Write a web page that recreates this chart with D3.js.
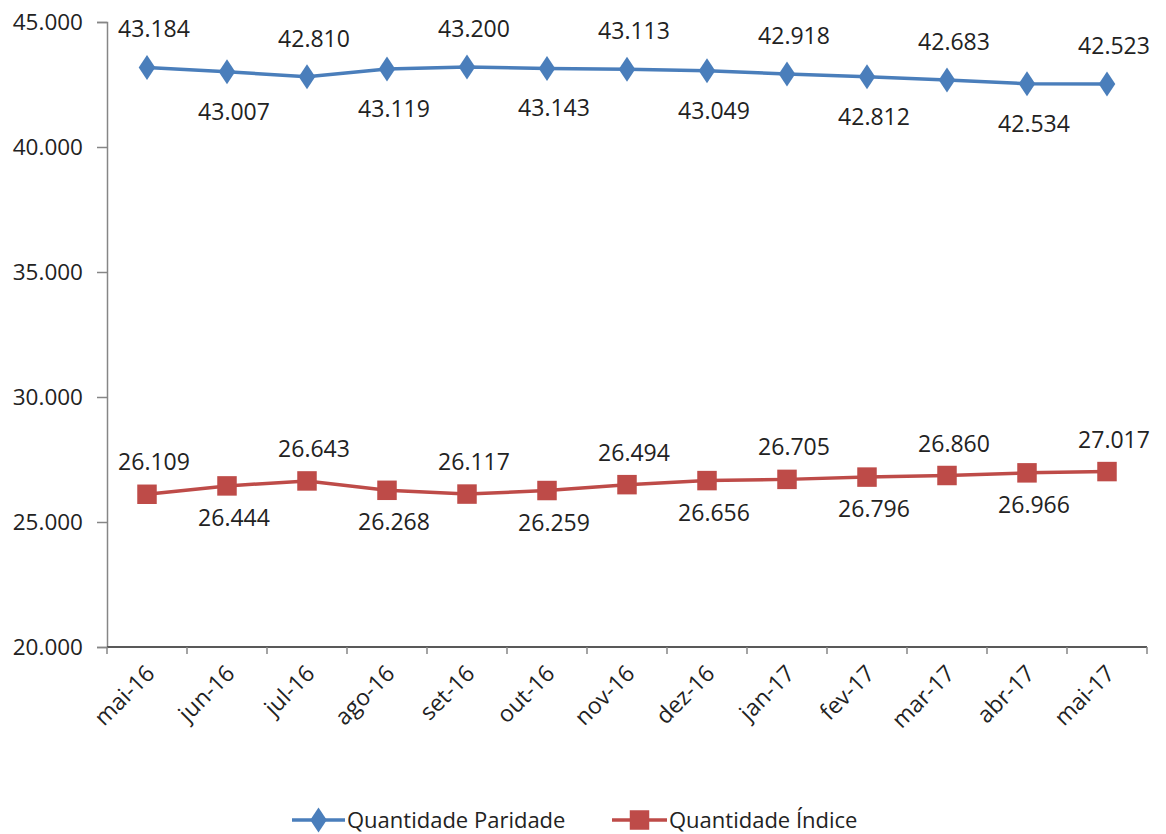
<!DOCTYPE html>
<html>
<head>
<meta charset="utf-8">
<script src="https://cdn.jsdelivr.net/npm/d3@7"></script>
<style>
  body { margin: 0; background: #fff; }
  text { font-family: "Open Sans", "Liberation Sans", sans-serif; }
</style>
</head>
<body>
<div id="chart"></div>
<script>
// Data
const months = ['mai-16', 'jun-16', 'jul-16', 'ago-16', 'set-16', 'out-16', 'nov-16',
    'dez-16', 'jan-17', 'fev-17', 'mar-17', 'abr-17', 'mai-17'];
const paridade = [43184, 43007, 42810, 43119, 43200, 43143, 43113, 43049, 42918, 42812, 42683, 42534, 42523];
const indice = [26109, 26444, 26643, 26268, 26117, 26259, 26494, 26656, 26705, 26796, 26860, 26966, 27017];
const yTicks = [20000, 25000, 30000, 35000, 40000, 45000];

const W = 1166, H = 834;
const margin = { top: 22, right: 19, bottom: 187, left: 107 };
const width = W - margin.left - margin.right;
const height = H - margin.top - margin.bottom;

const fmt = d3.formatLocale({ decimal: ',', thousands: '.', grouping: [3], currency: ['', ''] }).format(',.0f');

const svg = d3.select('#chart')
    .append('svg')
    .attr('width', W)
    .attr('height', H)
    .append('g')
    .attr('transform', 'translate(' + margin.left + ',' + margin.top + ')');

const xScale = d3.scaleBand()
    .domain(months)
    .range([0, width]);

const yScale = d3.scaleLinear()
    .domain([20000, 45000])
    .range([height, 0]);

const axisColor = '#868686';

// Y axis
const yAxis = svg.append('g')
    .call(d3.axisLeft(yScale).tickValues(yTicks).tickFormat(fmt).tickSize(10).tickPadding(14));
yAxis.select('.domain').attr('stroke', axisColor).attr('stroke-width', 1.5);
yAxis.selectAll('.tick line').attr('stroke', axisColor).attr('stroke-width', 1.5);
yAxis.selectAll('.tick text')
    .attr('fill', '#222')
    .style('font-size', '22.5px');

// X axis, ticks sit between categories
const xAxis = svg.append('g')
    .attr('transform', 'translate(0,' + height + ')');
xAxis.append('line')
    .attr('x1', 0).attr('x2', width)
    .attr('stroke', '#595959').attr('stroke-width', 2);
const bounds = months.map(m => xScale(m)).concat([width]);
xAxis.selectAll('.xtick')
    .data(bounds)
    .enter()
    .append('line')
    .attr('x1', d => d).attr('x2', d => d)
    .attr('y1', 0).attr('y2', 7)
    .attr('stroke', axisColor).attr('stroke-width', 1.5);
xAxis.selectAll('.xlabel')
    .data(months)
    .enter()
    .append('text')
    .attr('transform', d => 'translate(' + (xScale(d) + xScale.bandwidth() / 2 + 9) + ',28) rotate(-45)')
    .attr('text-anchor', 'end')
    .attr('fill', '#222')
    .style('font-size', '23px')
    .text(d => d);

const cx = d => xScale(d) + xScale.bandwidth() / 2;

const series = [
    { name: 'Quantidade Paridade', values: paridade, color: '#4a7ebb', shape: d3.symbolDiamond, size: 180, above: -30, below: 48 },
    { name: 'Quantidade Índice', values: indice, color: '#be4b48', shape: d3.symbolSquare, size: 380, above: -24, below: 40 }
];

const markerTransform = (s, x, y) =>
    'translate(' + x + ',' + y + ')' + (s.shape === d3.symbolDiamond ? 'scale(1.15,1)' : '');

series.forEach(s => {
    const data = months.map((m, i) => ({ m, v: s.values[i], i }));

    svg.append('path')
        .datum(data)
        .attr('fill', 'none')
        .attr('stroke', s.color)
        .attr('stroke-width', 3.5)
        .attr('d', d3.line().x(d => cx(d.m)).y(d => yScale(d.v)));

    svg.selectAll(null)
        .data(data)
        .enter()
        .append('path')
        .attr('d', d3.symbol().type(s.shape).size(s.size))
        .attr('transform', d => markerTransform(s, cx(d.m), yScale(d.v)))
        .attr('fill', s.color);

    // labels alternate above / below the points
    svg.selectAll(null)
        .data(data)
        .enter()
        .append('text')
        .attr('x', d => cx(d.m) + 7)
        .attr('y', d => yScale(d.v) + (d.i % 2 === 0 ? s.above : s.below))
        .attr('text-anchor', 'middle')
        .attr('fill', '#222')
        .style('font-size', '23px')
        .text(d => fmt(d.v));
});

// Legend
const legend = svg.append('g')
    .attr('transform', 'translate(0,' + (820 - margin.top) + ')');
const legendItems = [
    { s: series[0], x: 292 - margin.left, len: 53 },
    { s: series[1], x: 612 - margin.left, len: 55 }
];
legendItems.forEach(({ s, x, len }) => {
    const g = legend.append('g').attr('transform', 'translate(' + x + ',0)');
    g.append('line')
        .attr('x1', 0).attr('x2', len)
        .attr('stroke', s.color).attr('stroke-width', 3.5);
    g.append('path')
        .attr('d', d3.symbol().type(s.shape).size(s.size))
        .attr('transform', markerTransform(s, len / 2, 0))
        .attr('fill', s.color);
    g.append('text')
        .attr('x', len + 2)
        .attr('dy', '0.35em')
        .attr('fill', '#222')
        .style('font-size', '22px')
        .text(s.name);
});
</script>
</body>
</html>
